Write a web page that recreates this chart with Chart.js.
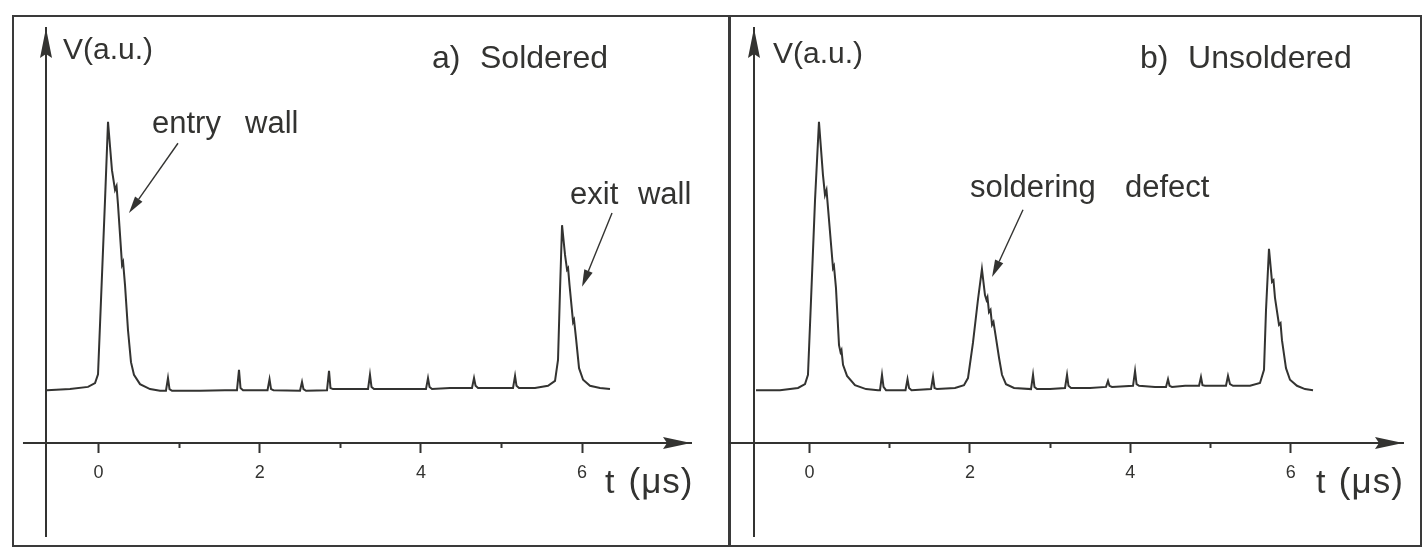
<!DOCTYPE html>
<html><head><meta charset="utf-8">
<script src="https://cdn.jsdelivr.net/npm/chart.js@4.4.1/dist/chart.umd.min.js"></script>
<style>
html,body{margin:0;padding:0;background:#fff;width:1422px;height:547px;overflow:hidden}
.frame{position:absolute;border:2px solid #3a3a3a;box-sizing:border-box}
.wrap{position:absolute;top:0;height:547px}
canvas{position:absolute;left:0;top:0}
</style></head><body>
<div class="frame" style="left:12px;top:15px;width:718px;height:532px"></div>
<div class="frame" style="left:729px;top:15px;width:693px;height:532px"></div>
<div class="wrap" style="left:0;width:729px"><canvas id="ca" width="729" height="547"></canvas></div>
<div class="wrap" style="left:729px;width:693px"><canvas id="cb" width="693" height="547"></canvas></div>
<script>
// ---- data: time (µs) and signal V (a.u.) ----
const T_SOLDERED = [-0.639,-0.354,-0.130,-0.043,-0.006,0.031,0.081,0.118,0.167,0.205,0.224,0.242,0.292,0.305,0.329,0.366,0.403,0.440,0.515,0.639,0.763,
  0.837,0.862,0.881,0.912,1.259,1.569,1.718,1.743,1.762,1.793,2.097,2.122,2.141,2.171,2.500,2.525,2.543,2.575,2.835,2.860,2.878,2.909,3.120,
  3.344,3.368,3.387,3.418,3.740,4.063,4.088,4.107,4.138,4.361,4.634,4.659,4.678,4.709,4.920,5.143,5.168,5.186,5.217,5.415,5.577,5.664,5.701,
  5.726,5.751,5.788,5.813,5.826,5.844,5.888,5.900,5.924,5.962,6.012,6.098,6.222,6.346];
const V_SOLDERED = [0.96,0.98,1.02,1.09,1.25,2.60,4.42,5.84,4.96,4.60,4.67,4.33,3.24,3.29,2.87,2.05,1.47,1.24,1.07,0.98,0.95,
  0.95,1.18,0.98,0.95,0.95,0.96,0.96,1.33,1.00,0.96,0.96,1.16,0.98,0.96,0.95,1.11,0.98,0.95,0.96,1.31,1.00,0.98,0.98,
  0.98,1.24,1.02,0.98,0.98,0.98,1.18,1.02,0.98,1.00,1.00,1.18,1.04,1.00,1.00,1.00,1.22,1.04,1.00,1.00,1.04,1.13,1.51,
  2.78,3.96,3.42,3.15,3.18,2.87,2.20,2.24,1.91,1.36,1.15,1.04,1.00,0.98];

const T_UNSOLDERED = [-0.667,-0.368,-0.143,-0.056,-0.019,0.019,0.069,0.118,0.168,0.193,0.212,0.231,0.293,0.305,0.330,0.368,0.387,0.399,0.418,0.468,0.567,0.705,0.854,
  0.879,0.904,0.923,0.954,1.116,1.197,1.222,1.241,1.272,1.515,1.540,1.559,1.590,1.814,1.926,1.976,2.038,2.100,2.150,2.188,2.207,2.219,2.238,2.257,2.276,2.294,2.325,2.363,2.400,2.450,2.550,
  2.762,2.787,2.805,2.837,2.999,3.186,3.211,3.229,3.261,3.498,3.697,3.722,3.740,3.772,4.034,4.059,4.078,4.109,4.308,4.445,4.470,4.489,4.520,4.683,4.857,4.881,4.900,4.932,
  5.193,5.218,5.243,5.281,5.493,5.617,5.667,5.692,5.729,5.767,5.785,5.804,5.854,5.873,5.891,5.941,5.991,6.078,6.178,6.278];
const V_UNSOLDERED = [0.96,0.96,1.00,1.07,1.24,2.60,4.42,5.84,4.87,4.51,4.60,4.27,3.18,3.22,2.82,1.78,1.65,1.69,1.42,1.22,1.05,0.98,0.96,
  0.96,1.24,1.02,0.96,0.96,0.96,1.16,1.00,0.96,0.98,1.20,1.00,0.98,1.00,1.05,1.18,1.82,2.60,3.16,2.69,2.60,2.65,2.38,2.42,2.15,2.20,1.91,1.55,1.24,1.07,1.00,
  0.98,1.24,1.02,0.98,0.98,1.00,1.24,1.04,1.00,1.00,1.02,1.13,1.04,1.02,1.04,1.31,1.07,1.04,1.02,1.02,1.16,1.04,1.02,1.04,1.04,1.20,1.05,1.04,
  1.04,1.22,1.07,1.04,1.04,1.09,1.33,2.42,3.53,2.93,2.96,2.64,2.15,2.18,1.87,1.36,1.15,1.04,0.98,0.96];

const MAJOR_TICKS = [0, 2, 4, 6];
const MINOR_TICKS = [1, 3, 5];

const FONT = '"Liberation Sans", Arial, Helvetica, sans-serif';
const INK = '#333331';

function makeChart(id, T, V, cfg) {
  const pts = T.map((t, i) => ({x: t, y: V[i]}));
  const decor = {
    id: 'decor',
    afterDraw(chart) {
      const {ctx, chartArea: ca, scales: {x, y}} = chart;
      ctx.save();
      ctx.strokeStyle = INK; ctx.fillStyle = INK; ctx.lineWidth = 2;
      const y0 = y.getPixelForValue(0);
      // axis extensions
      ctx.beginPath();
      ctx.moveTo(x.getPixelForValue(cfg.xAxisStart), y0); ctx.lineTo(ca.left, y0);
      ctx.moveTo(ca.left, y0); ctx.lineTo(ca.left, y.getPixelForValue(cfg.yAxisEnd));
      ctx.stroke();
      // arrowheads on axes
      ctx.beginPath();
      ctx.moveTo(ca.right, y0); ctx.lineTo(ca.right - 28, y0 - 6); ctx.lineTo(ca.right - 24, y0); ctx.lineTo(ca.right - 28, y0 + 6); ctx.closePath(); ctx.fill();
      ctx.beginPath();
      ctx.moveTo(ca.left, ca.top); ctx.lineTo(ca.left - 6, ca.top + 30); ctx.lineTo(ca.left, ca.top + 26); ctx.lineTo(ca.left + 6, ca.top + 30); ctx.closePath(); ctx.fill();
      // texts
      ctx.textBaseline = 'alphabetic'; ctx.textAlign = 'left';
      cfg.texts.forEach(tx => {
        ctx.font = tx.size + 'px ' + FONT;
        if ('letterSpacing' in ctx) ctx.letterSpacing = (tx.ls || 0) + 'px';
        ctx.fillText(tx.s, x.getPixelForValue(tx.t), y.getPixelForValue(tx.v));
      });
      if ('letterSpacing' in ctx) ctx.letterSpacing = '0px';
      // annotation arrows
      cfg.arrows.forEach(a => {
        const x1 = x.getPixelForValue(a.t1), y1 = y.getPixelForValue(a.v1);
        const x2 = x.getPixelForValue(a.t2), y2 = y.getPixelForValue(a.v2);
        const ang = Math.atan2(y2 - y1, x2 - x1);
        const L = 17, W = 4.5;
        const bx = x2 - L * Math.cos(ang), by = y2 - L * Math.sin(ang);
        ctx.lineWidth = 1.4;
        ctx.beginPath(); ctx.moveTo(x1, y1); ctx.lineTo(bx, by); ctx.stroke();
        ctx.beginPath();
        ctx.moveTo(x2, y2);
        ctx.lineTo(bx + W * Math.sin(ang), by - W * Math.cos(ang));
        ctx.lineTo(bx - W * Math.sin(ang), by + W * Math.cos(ang));
        ctx.closePath(); ctx.fill();
      });
      ctx.restore();
    }
  };
  return new Chart(document.getElementById(id), {
    type: 'line',
    data: {datasets: [{data: pts, borderColor: INK, borderWidth: 2, pointRadius: 0, tension: 0, fill: false}]},
    options: {
      responsive: false, animation: false, devicePixelRatio: 1,
      layout: {padding: cfg.padding},
      plugins: {legend: {display: false}, tooltip: {enabled: false}},
      scales: {
        xMinor: {
          type: 'linear', position: 'bottom', weight: -1, min: cfg.xmin, max: cfg.xmax,
          afterBuildTicks: s => { s.ticks = MINOR_TICKS.map(v => ({value: v})); },
          afterFit: s => { s.height = 0; },
          grid: {display: true, drawOnChartArea: false, drawTicks: true, tickLength: 5, tickWidth: 2, tickColor: INK},
          border: {display: false},
          ticks: {display: false}
        },
        x: {
          type: 'linear', position: 'bottom', weight: 0, min: cfg.xmin, max: cfg.xmax,
          afterBuildTicks: s => { s.ticks = MAJOR_TICKS.map(v => ({value: v})); },
          afterFit: s => { s.height = 60; },
          grid: {display: true, drawOnChartArea: false, drawTicks: true, tickLength: 10, tickWidth: 2, tickColor: INK},
          border: {display: true, color: INK, width: 2},
          ticks: {color: INK, font: {family: FONT, size: 18}, padding: 9, maxRotation: 0, autoSkip: false}
        },
        y: {
          type: 'linear', position: 'left', min: 0, max: 7.545,
          afterFit: s => { s.width = 0; },
          grid: {display: false, drawTicks: false},
          border: {display: true, color: INK, width: 2},
          ticks: {display: false}
        }
      }
    },
    plugins: [decor]
  });
}

makeChart('ca', T_SOLDERED, V_SOLDERED, {
  xmin: -0.6514, xmax: 7.351, xAxisStart: -0.937, yAxisEnd: -1.71,
  padding: {left: 46, right: 38, top: 28, bottom: 44},
  texts: [
    {s: 'V(a.u.)', t: -0.44, v: 6.98, size: 30},
    {s: 'a)', t: 4.138, v: 6.82, size: 32},
    {s: 'Soldered', t: 4.733, v: 6.82, size: 32},
    {s: 'entry', t: 0.664, v: 5.64, size: 31},
    {s: 'wall', t: 1.818, v: 5.64, size: 31},
    {s: 'exit', t: 5.850, v: 4.35, size: 31},
    {s: 'wall', t: 6.693, v: 4.35, size: 31},
    {s: 't', t: 6.284, v: -0.91, size: 34},
    {s: '(μs)', t: 6.576, v: -0.91, size: 35, ls: 1}
  ],
  arrows: [
    {t1: 0.986, v1: 5.45, t2: 0.378, v2: 4.18},
    {t1: 6.371, v1: 4.18, t2: 5.999, v2: 2.84}
  ]
});

makeChart('cb', T_UNSOLDERED, V_UNSOLDERED, {
  xmin: -0.692, xmax: 7.400, xAxisStart: -1.004, yAxisEnd: -1.71,
  padding: {left: 25, right: 19, top: 28, bottom: 44},
  texts: [
    {s: 'V(a.u.)', t: -0.455, v: 6.91, size: 30},
    {s: 'b)', t: 4.121, v: 6.82, size: 32},
    {s: 'Unsoldered', t: 4.72, v: 6.82, size: 32},
    {s: 'soldering', t: 2.001, v: 4.47, size: 31},
    {s: 'defect', t: 3.934, v: 4.47, size: 31},
    {s: 't', t: 6.315, v: -0.91, size: 34},
    {s: '(μs)', t: 6.60, v: -0.91, size: 35, ls: 1}
  ],
  arrows: [
    {t1: 2.662, v1: 4.24, t2: 2.276, v2: 3.02}
  ]
});
</script>
</body></html>
